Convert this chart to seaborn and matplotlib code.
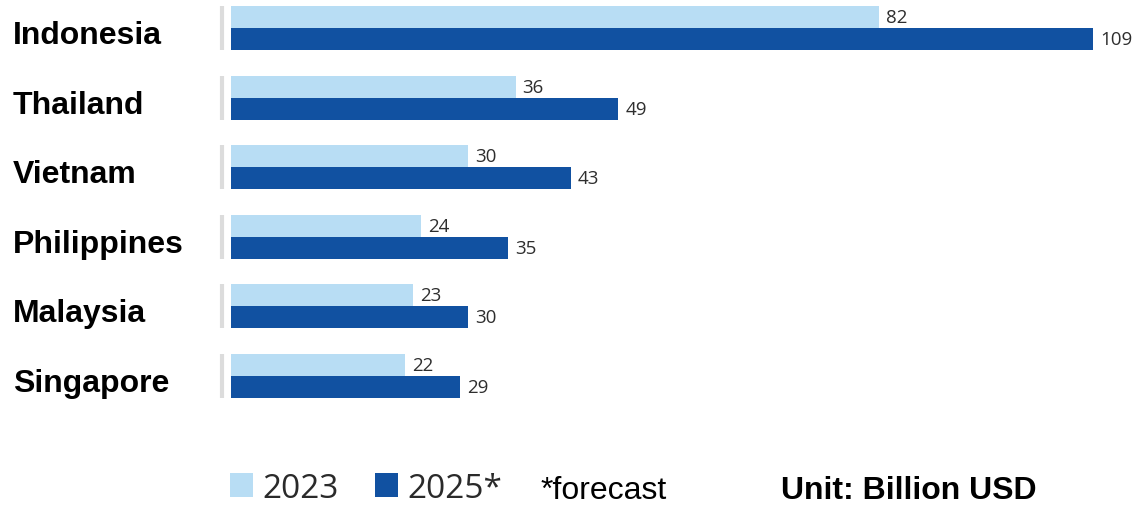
import matplotlib
matplotlib.use("Agg")
import matplotlib.pyplot as plt
import matplotlib.transforms as mtransforms
import seaborn as sns
import pandas as pd

countries = ["Indonesia", "Thailand", "Vietnam", "Philippines", "Malaysia", "Singapore"]
values_2023 = [82, 36, 30, 24, 23, 22]
values_2025 = [109, 49, 43, 35, 30, 29]
series_labels = ["2023", "2025*"]

df = pd.DataFrame({
    "country": countries * 2,
    "value": values_2023 + values_2025,
    "year": [series_labels[0]] * len(countries) + [series_labels[1]] * len(countries),
})

sns.set_theme(style="white")
W, H = 1137, 506
fig = plt.figure(figsize=(W / 100, H / 100), dpi=100)
fig.patch.set_facecolor("white")

ppu = 7.908  # px per unit on x
xmax = 112
ax = fig.add_axes([231 / W, 0, xmax * ppu / W, 1])
ax.set_facecolor("white")

palette = {"2023": "#b8ddf4", "2025*": "#1151a1"}
sns.barplot(data=df, y="country", x="value", hue="year", order=countries,
            hue_order=series_labels, palette=palette, orient="h", width=0.63,
            saturation=1, linewidth=0, ax=ax, legend=True)

gc = 69.6
top = 29.0
ax.set_xlim(0, xmax)
ax.set_ylim((H - top) / gc, -top / gc)
ax.axis("off")

for cont in ax.containers:
    ax.bar_label(cont, padding=5, fontsize=13.5, color="#2e2e2e",
                 family=["Open Sans", "DejaVu Sans"])

# separators and country labels
btf = mtransforms.blended_transform_factory(fig.transFigure, ax.transData)
for i, c in enumerate(countries):
    ax.plot([222 / W, 222 / W], [i - 0.315, i + 0.315], transform=btf,
            color="#dcdcdc", lw=3, solid_capstyle="butt", clip_on=False)
    ax.text(13 / W, i + 0.215, c, transform=btf, ha="left", va="baseline",
            fontsize=23, fontweight="bold", color="black",
            family=["Liberation Sans", "DejaVu Sans"])

# legend
handles, labels = ax.get_legend_handles_labels()
ax.get_legend().remove()
leg = fig.legend(handles, labels, loc="lower left", bbox_to_anchor=(230 / W, 0),
                 ncol=2, frameon=False, handlelength=0.69,
                 handleheight=0.72, handletextpad=0.27, columnspacing=1.1,
                 borderpad=0, borderaxespad=0,
                 prop={"family": ["Open Sans", "DejaVu Sans"], "size": 24})
for t in leg.get_texts():
    t.set_color("#2a2a2a")

fig.text(541 / W, 7 / H, "*forecast", ha="left", va="baseline", fontsize=23,
         color="black", family=["Liberation Sans", "DejaVu Sans"])
fig.text(781 / W, 7 / H, "Unit: Billion USD", ha="left", va="baseline", fontsize=23,
         fontweight="bold", color="black", family=["Liberation Sans", "DejaVu Sans"])

fig.savefig("out.png", dpi=100, facecolor="white")
